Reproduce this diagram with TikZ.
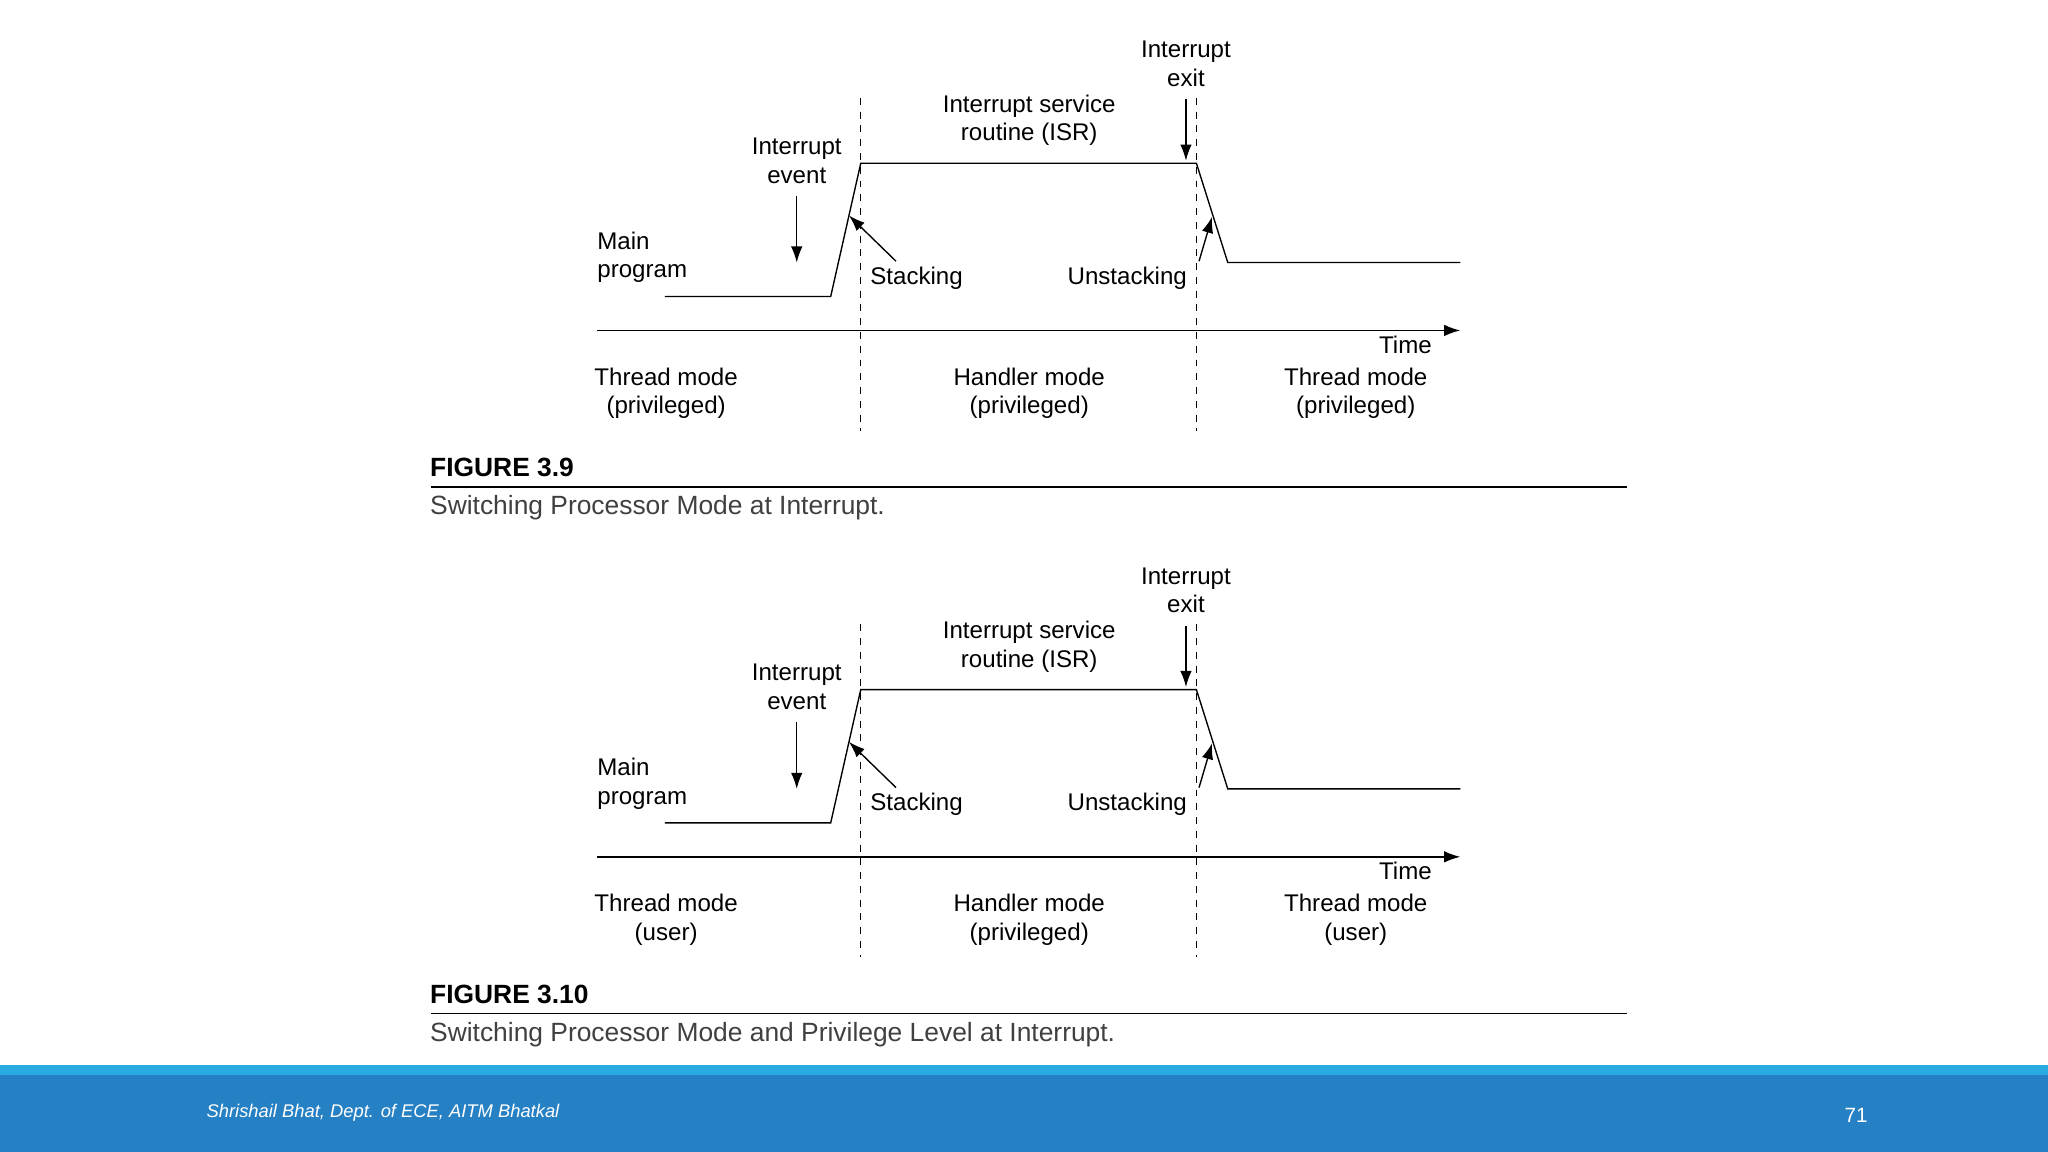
\documentclass[tikz,border=0pt]{standalone}
\usepackage{fontspec}
\setmainfont{Liberation Sans}
\usetikzlibrary{arrows.meta}
\begin{document}
\begin{tikzpicture}[x=0.02cm,y=-0.02cm,
  lab/.style={align=center,font=\fontsize{10.5}{12.5}\selectfont,inner sep=0pt},
  sig/.style={line width=0.6pt},
  dsh/.style={dashed,line width=0.6pt},
  arr/.style={-{Latex[length=7pt,width=5pt]},line width=0.6pt}]
\useasboundingbox (0,0) rectangle (1568,882);
\fill[white] (0,0) rectangle (1568,882);
\foreach \dy/\ma/\mb/\fig/\cap in {0/privileged/privileged/3.9/{Switching Processor Mode at Interrupt.},403/user/user/3.10/{Switching Processor Mode and Privilege Level at Interrupt.}}{
 \begin{scope}[yshift=-\dy*0.02cm]
  \draw[dsh] (659,75) -- (659,330);
  \draw[dsh] (916,75) -- (916,330);
  \draw[sig] (509,227) -- (636,227) -- (659,125) -- (916,125) -- (940,201) -- (1118,201);
  \coordinate (a0) at (457,253); \coordinate (a1) at (1118,253);
  \draw[arr] (a0) -- (a1);
  \node[lab] (ex) at (908,49) {Interrupt\\exit};
  \coordinate (exa) at (908,76); \coordinate (exb) at (908,123);
  \draw[arr] (exa) -- (exb);
  \node[lab] (ev) at (610,123) {Interrupt\\event};
  \coordinate (eva) at (610,150); \coordinate (evb) at (610,201);
  \draw[arr] (eva) -- (evb);
  \node[lab,anchor=west] (st) at (666,213) {Stacking};
  \coordinate (sta) at (686,200); \coordinate (stb) at (650,165);
  \draw[arr] (sta) -- (stb);
  \node[lab,anchor=east] (us) at (909,213) {Unstacking};
  \coordinate (usa) at (918,200); \coordinate (usb) at (928,166);
  \draw[arr] (usa) -- (usb);
  \node[lab,align=left,anchor=west] (mp) at (457,197) {Main\\program};
  \node[lab] (isr) at (788,92) {Interrupt service\\routine (ISR)};
  \node[lab] (tm) at (1076,264) {Time};
  \node[lab] (m1) at (510,301) {Thread mode\\(\ma)};
  \node[lab] (m2) at (788,301) {Handler mode\\(privileged)};
  \node[lab] (m3) at (1038,301) {Thread mode\\(\mb)};
  \node[lab,anchor=west,font=\bfseries\fontsize{11.5}{13}\selectfont] (fg) at (329,358) {FIGURE \fig};
  \draw[line width=0.7pt] (330,373) -- (1246,373);
  \node[lab,anchor=west,font=\fontsize{11.5}{13}\selectfont,text=black!75] (cp) at (329,389) {\cap};
 \end{scope}}
\fill[fill={rgb,255:red,41;green,171;blue,226}] (0,815) rectangle (1568,823);
\fill[fill={rgb,255:red,38;green,128;blue,196}] (0,823) rectangle (1568,882);
\node[anchor=west,text=white,font=\itshape\fontsize{8}{10}\selectfont] (ft) at (152,852) {Shrishail Bhat, Dept. of ECE, AITM Bhatkal};
\node[text=white,font=\fontsize{9}{10}\selectfont] (pg) at (1421,854) {71};
\end{tikzpicture}
\end{document}
